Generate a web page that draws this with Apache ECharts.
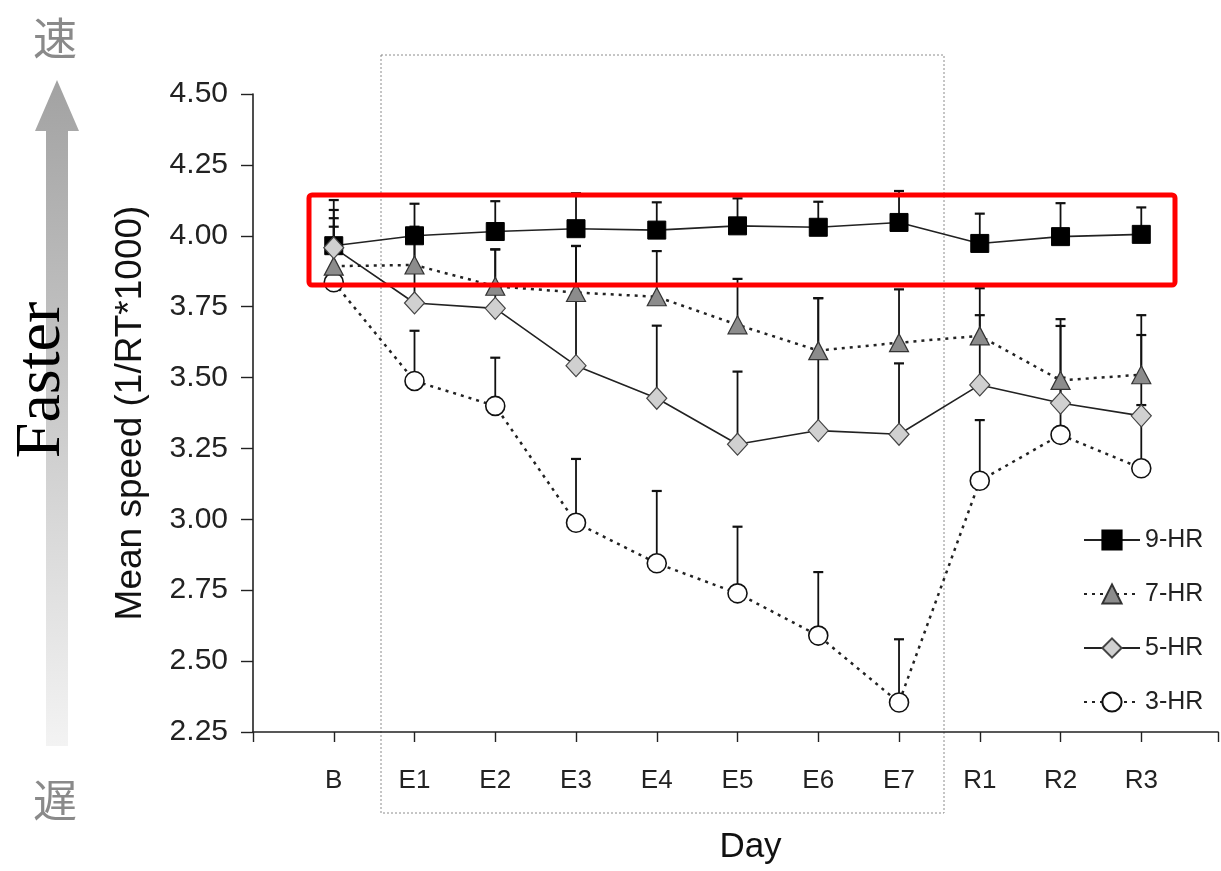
<!DOCTYPE html>
<html>
<head>
<meta charset="utf-8">
<script src="https://cdn.jsdelivr.net/npm/echarts@6/dist/echarts.min.js"></script>
<style>html,body{margin:0;padding:0;background:#fff;}#c{width:1221px;height:871px;}</style>
</head>
<body>
<div id="c"></div>
<script>
const categories = ['B','E1','E2','E3','E4','E5','E6','E7','R1','R2','R3'];
const yTicks = [2.25, 2.50, 2.75, 3.00, 3.25, 3.50, 3.75, 4.00, 4.25, 4.50];
const hr9 = [3.965, 4.00, 4.015, 4.025, 4.02, 4.035, 4.03, 4.047, 3.973, 3.997, 4.005];
const hr9Upper = [4.126, 4.113, 4.122, 4.15, 4.118, 4.132, 4.12, 4.158, 4.078, 4.115, 4.10];
const hr7 = [3.893, 3.897, 3.822, 3.80, 3.785, 3.686, 3.595, 3.623, 3.647, 3.49, 3.51];
const hr7Upper = [4.062, 4.032, 3.952, 3.964, 3.946, 3.848, 3.78, 3.811, 3.815, 3.706, 3.72];
const hr5 = [3.958, 3.763, 3.744, 3.542, 3.427, 3.265, 3.313, 3.30, 3.474, 3.41, 3.365];
const hr5Upper = [4.091, 3.99, 3.952, 3.964, 3.683, 3.521, 3.78, 3.55, 3.72, 3.682, 3.65];
const hr3 = [3.836, 3.488, 3.40, 2.988, 2.845, 2.739, 2.59, 2.354, 3.136, 3.298, 3.18];
const hr3Upper = [4.032, 3.665, 3.57, 3.213, 3.10, 2.974, 2.814, 2.577, 3.35, 3.50, 3.403];

const FONT = '"Liberation Sans", Arial, Helvetica, sans-serif';

function pts(vals){ return vals.map((v,i)=>[i,v]); }
function errData(vals, up){ return vals.map((v,i)=>[i,v,up[i]]); }
function errRender(params, api){
  const x = api.value(0);
  const p0 = api.coord([x, api.value(1)]);
  const p1 = api.coord([x, api.value(2)]);
  return {type:'group', children:[
    {type:'line', shape:{x1:p0[0],y1:p0[1],x2:p1[0],y2:p1[1]}, style:{stroke:'#111', lineWidth:1.8}},
    {type:'line', shape:{x1:p1[0]-5,y1:p1[1],x2:p1[0]+5,y2:p1[1]}, style:{stroke:'#111', lineWidth:2.2}}
  ]};
}
function errSeries(name, vals, up){
  return {type:'custom', name:name+'err', renderItem: errRender, data: errData(vals, up), z:1, silent:true,
    encode:{x:0, y:[1,2]}};
}

const chart = echarts.init(document.getElementById('c'));
chart.setOption({
  animation:false,
  backgroundColor:'#fff',
  grid:{left:253, right:0, top:94, bottom:139, containLabel:false},
  legend:{
    orient:'vertical', left:1078, top:522,
    itemWidth:56, itemHeight:24, itemGap:28,
    data:['9-HR','7-HR','5-HR','3-HR'],
    textStyle:{fontFamily:FONT, fontSize:25, color:'#222', lineHeight:26}
  },
  xAxis:{
    type:'value', min:-1, max:10.95, interval:1,
    name:'Day', nameLocation:'middle', nameGap:98,
    nameTextStyle:{fontFamily:FONT, fontSize:35, color:'#111', padding:[0,0,0,30]},
    axisLine:{onZero:false, lineStyle:{color:'#222', width:1.6}},
    axisTick:{inside:false, length:10, lineStyle:{color:'#222', width:1.4}},
    axisLabel:{margin:36, fontFamily:FONT, fontSize:26, color:'#222',
      formatter:v=> (categories[v] !== undefined ? categories[v] : '')},
    splitLine:{show:false}
  },
  yAxis:{
    type:'value', min:2.25, max:4.5, interval:0.25,
    name:'Mean speed (1/RT*1000)', nameLocation:'middle', nameGap:104, nameRotate:90,
    nameTextStyle:{fontFamily:FONT, fontSize:37, color:'#111'},
    axisLine:{show:true, onZero:false, lineStyle:{color:'#222', width:1.6}},
    axisTick:{show:true, inside:false, length:12, lineStyle:{color:'#222', width:1.4}},
    axisLabel:{margin:25, fontFamily:FONT, fontSize:30, color:'#222', formatter:v=>v.toFixed(2)},
    splitLine:{show:false}
  },
  graphic:[
    {type:'rect', z:0, shape:{x:381, y:55, width:563, height:758},
      style:{fill:null, stroke:'#8c8c8c', lineWidth:1, lineDash:[2,2]}},
    {type:'polygon', z:0, shape:{points:[[57,80],[79,131],[68,131],[68,746],[46,746],[46,131],[35,131]]},
      style:{fill:new echarts.graphic.LinearGradient(0,0,0,1,[{offset:0,color:'#a2a2a2'},{offset:1,color:'#f3f3f3'}]), stroke:null}},
    {type:'text', z:5, x:55, y:38, style:{text:'速', align:'center', verticalAlign:'middle',
      font:'44px "Noto Sans CJK JP"', fill:'#8a8a8a'}},
    {type:'text', z:5, x:55, y:800, style:{text:'遅', align:'center', verticalAlign:'middle',
      font:'44px "Noto Sans CJK JP"', fill:'#8a8a8a'}},
    {type:'text', z:5, x:42, y:380, rotation:Math.PI/2, style:{text:'Faster', align:'center', verticalAlign:'middle',
      font:'64px "Liberation Serif", "Times New Roman", serif', fill:'#000'}},
    {type:'rect', z:100, shape:{x:309, y:195, width:866, height:90, r:3},
      style:{fill:null, stroke:'#ff0000', lineWidth:5}}
  ],
  series:[
    errSeries('3-HR', hr3, hr3Upper),
    errSeries('7-HR', hr7, hr7Upper),
    errSeries('9-HR', hr9, hr9Upper),
    errSeries('5-HR', hr5, hr5Upper),
    {type:'line', name:'3-HR', data:pts(hr3), z:3, symbol:'circle', symbolSize:19,
      lineStyle:{color:'#222', width:2.5, type:[3,5]},
      itemStyle:{color:'#fff', borderColor:'#111', borderWidth:1.6}},
    {type:'line', name:'7-HR', data:pts(hr7), z:3, symbol:'triangle', symbolSize:[19,18],
      lineStyle:{color:'#222', width:2.5, type:[3,5]},
      itemStyle:{color:'#8c8c8c', borderColor:'#333', borderWidth:1.2}},
    {type:'line', name:'9-HR', data:pts(hr9), z:3, symbol:'rect', symbolSize:18,
      lineStyle:{color:'#222', width:1.6},
      itemStyle:{color:'#000', borderColor:'#000', borderWidth:1}},
    {type:'line', name:'5-HR', data:pts(hr5), z:3, symbol:'diamond', symbolSize:[20,22],
      lineStyle:{color:'#222', width:1.6},
      itemStyle:{color:'#d0d0d0', borderColor:'#444', borderWidth:1.2}}
  ]
});
</script>
</body>
</html>
